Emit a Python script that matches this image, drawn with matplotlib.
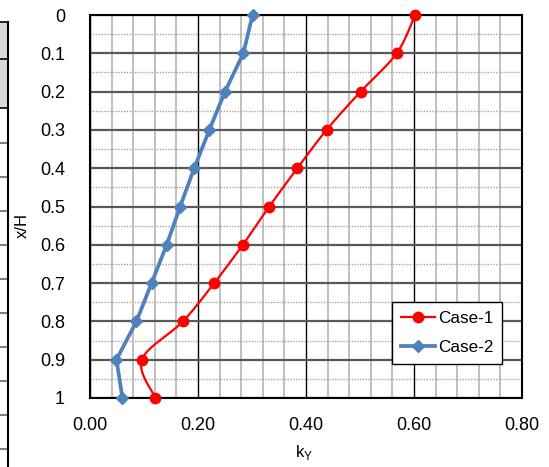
import numpy as np
import matplotlib
matplotlib.use("Agg")
import matplotlib.pyplot as plt
from matplotlib.patches import Rectangle
from matplotlib.lines import Line2D
from matplotlib.ticker import MultipleLocator

plt.rcParams['font.family'] = ['Liberation Sans', 'DejaVu Sans']

# dati
depth = [0, 0.1, 0.2, 0.3, 0.4, 0.5, 0.6, 0.7, 0.8, 0.9, 1.0]
case1 = [0.602, 0.568, 0.501, 0.438, 0.384, 0.332, 0.283, 0.230, 0.172, 0.096, 0.121]
case2 = [0.301, 0.284, 0.250, 0.221, 0.193, 0.167, 0.142, 0.114, 0.086, 0.049, 0.060]
y_labels = ["0", "0.1", "0.2", "0.3", "0.4", "0.5", "0.6", "0.7", "0.8", "0.9", "1"]
x_ticks = [0.0, 0.2, 0.4, 0.6, 0.8]

W, H = 549, 467


#curva smussata tipo Excel (Catmull-Rom) passante per i punti
def smooth(xs, ys, n=20):
    p = np.column_stack([xs, ys])
    p = np.vstack([p[0], p, p[-1]])
    out = []
    for i in range(1, len(p) - 2):
        p0, p1, p2, p3 = p[i - 1], p[i], p[i + 1], p[i + 2]
        t = np.linspace(0, 1, n)[:, None]
        seg = 0.5 * ((2 * p1) + (-p0 + p2) * t + (2 * p0 - 5 * p1 + 4 * p2 - p3) * t ** 2
                     + (-p0 + 3 * p1 - 3 * p2 + p3) * t ** 3)
        out.append(seg)
    out = np.vstack(out)
    return out[:, 0], out[:, 1]


fig = plt.figure(figsize=(W / 100, H / 100), dpi=100)
ax = fig.add_axes([90 / W, 1 - 398 / H, (522 - 90) / W, (398 - 15) / H])

#griglia
ax.set_xlim(0, 0.8)
ax.set_ylim(1, 0)
ax.xaxis.set_major_locator(MultipleLocator(0.2))
ax.xaxis.set_minor_locator(MultipleLocator(0.04))
ax.yaxis.set_major_locator(MultipleLocator(0.1))
ax.yaxis.set_minor_locator(MultipleLocator(0.05))
ax.grid(which='minor', axis='x', color='#c0c0c0', lw=1.4)
ax.grid(which='minor', axis='y', color='#a6a6a6', lw=1.0, ls=(0, (1, 1)))
ax.grid(which='major', axis='x', color='black', lw=1.0)
ax.grid(which='major', axis='y', color='#595959', lw=1.6)
ax.set_axisbelow(True)
for s in ax.spines.values():
    s.set_linewidth(1.5)
    s.set_color('black')

#serie
sx, sy = smooth(case1, depth)
ax.plot(sx, sy, color='#ff0000', lw=1.6, zorder=3, clip_on=False)
ax.plot(case1, depth, ls='none', marker='o', ms=7.5, color='#ff0000', zorder=4, clip_on=False)
ax.plot(case2, depth, color='#4f81bd', lw=2.7, marker='D', ms=6.5, zorder=3, clip_on=False)

h1 = Line2D([], [], color='#ff0000', lw=1.6, marker='o', ms=7.5)
h2 = Line2D([], [], color='#4f81bd', lw=2.7, marker='D', ms=6.5)
leg = ax.legend([h1, h2], ["Case-1", "Case-2"], loc='upper left',
                bbox_to_anchor=((392 - 90) / 432, 1 - (302 - 15) / 383),
                fancybox=False, framealpha=1, edgecolor='black', fontsize=12.3,
                handlelength=2.0, handletextpad=0.2, borderpad=0.5, labelspacing=0.85,
                borderaxespad=0)
leg.get_frame().set_linewidth(1.0)

ax.set_yticks(depth)
ax.set_yticklabels(y_labels)
ax.set_xticks(x_ticks)
ax.set_xticklabels(["%.2f" % v for v in x_ticks])
ax.tick_params(which='both', length=0, labelsize=13)
ax.tick_params(axis='y', pad=18)
ax.tick_params(axis='x', pad=14)

fig.text(304 / W, 1 - 452 / H, r"k$_{\mathregular{Y}}$", ha='center', va='center', fontsize=12)
fig.text(22 / W, 1 - 225 / H, "x/H", ha='center', va='center', rotation=90, fontsize=12)

#pezzo di tabella tagliato a sinistra
def fx(px):
    return px / W


def fy(py):
    return 1 - py / H


fig.add_artist(Rectangle((0, fy(108)), fx(7), fy(22) - fy(108), transform=fig.transFigure,
                         facecolor='#d9d9d9', edgecolor='none'))
for yy in [22, 59, 108]:
    fig.add_artist(Line2D([0, fx(8)], [fy(yy), fy(yy)], transform=fig.transFigure, color='black', lw=1.2))
for yy in [143, 177, 211, 245, 279, 313, 347, 381, 415, 449]:
    fig.add_artist(Line2D([0, fx(7)], [fy(yy), fy(yy)], transform=fig.transFigure, color='#808080', lw=1.5))
fig.add_artist(Line2D([fx(7.5), fx(7.5)], [fy(22), 0], transform=fig.transFigure, color='black', lw=1.5))

fig.savefig("out.png", dpi=100)
